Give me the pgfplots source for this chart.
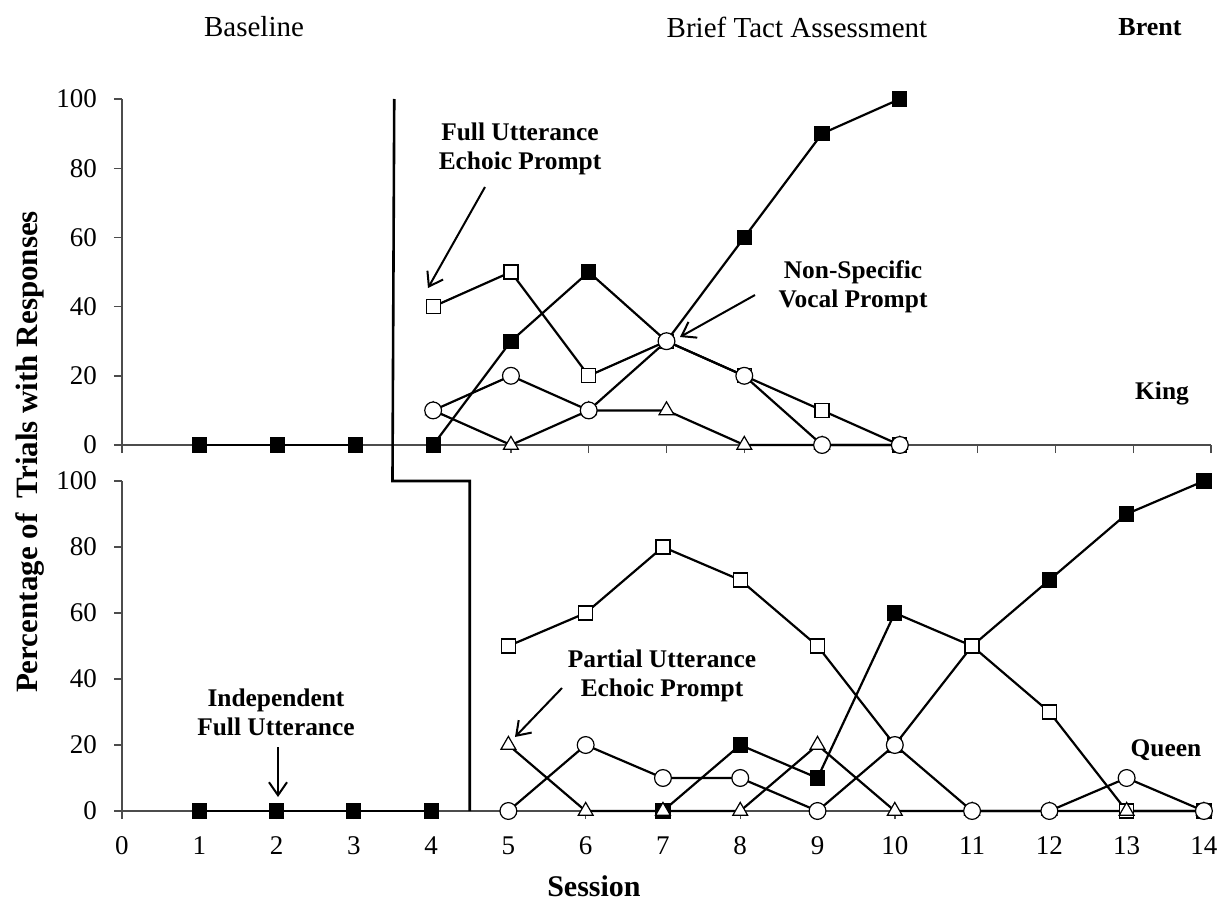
\documentclass[border=0pt]{standalone}
\usepackage{pgfplots}
\pgfplotsset{compat=1.18}
\usepackage{fontspec}
\setmainfont{Liberation Serif}
\usetikzlibrary{arrows.meta}

\pgfplotsset{
  panel/.style={
    scale only axis, anchor=south west, clip=false,
    ymin=0, ymax=100, ytick={0,20,...,100},
    xtick={0,...,14},
    axis x line*=bottom, axis y line*=left,
    tick align=outside, major tick length=4pt,
    axis line style={black!70, line width=0.7pt},
    tick style={black!70, line width=0.7pt},
    /pgf/number format/assume math mode=true,
    tick label style={font=\fontsize{13.5}{15}\selectfont},
    yticklabel style={xshift=-5pt},
    xticklabel style={yshift=-5pt, text height=9.3pt, text depth=0pt},
  },
  fillsq/.style={black, line width=1.1pt, mark=square*, mark size=3.5pt, mark options={solid, fill=black, line width=0.6pt}},
  opensq/.style={black, line width=1.1pt, mark=square*, mark size=3.5pt, mark options={solid, fill=white, line width=0.6pt}},
  opentri/.style={black, line width=1.1pt, mark=triangle*, mark size=4.3pt, mark options={solid, fill=white, line width=0.6pt}},
  opencirc/.style={black, line width=1.1pt, mark=*, mark size=4.2pt, mark options={solid, fill=white, line width=0.6pt}},
}

\begin{document}
\begin{tikzpicture}
\path[use as bounding box] (0,0) rectangle (611.5pt,451pt);

% ---------------- King (top) ----------------
\begin{axis}[panel, at={(61pt,228.5pt)}, width=544.5pt, height=173pt,
  xmin=0, xmax=14, xticklabels={}]
\addplot[fillsq] coordinates {(1,0) (2,0) (3,0)};
\addplot[fillsq] coordinates {(4,0) (5,30) (6,50) (7,30) (8,60) (9,90) (10,100)};
\addplot[opensq] coordinates {(4,40) (5,50) (6,20) (7,30) (8,20) (9,10) (10,0)};
\addplot[opentri] coordinates {(4,10) (5,0) (6,10) (7,10) (8,0) (9,0) (10,0)};
\addplot[opencirc] coordinates {(4,10) (5,20) (6,10) (7,30) (8,20) (9,0) (10,0)};
\coordinate (pa) at (axis cs:3.5,100);
\end{axis}

% ---------------- Queen (bottom) ----------------
\begin{axis}[panel, at={(61pt,45.5pt)}, width=545.6pt, height=165pt,
  xmin=0, xmax=14.12]
\addplot[fillsq] coordinates {(1,0) (2,0) (3,0) (4,0)};
\addplot[fillsq] coordinates {(7,0) (8,20) (9,10) (10,60) (11,50) (12,70) (13,90) (14,100)};
\addplot[opensq] coordinates {(5,50) (6,60) (7,80) (8,70) (9,50) (10,20) (11,50) (12,30) (13,0) (14,0)};
\addplot[opentri] coordinates {(5,20) (6,0) (7,0) (8,0) (9,20) (10,0) (11,0) (12,0) (13,0) (14,0)};
\addplot[opencirc] coordinates {(5,0) (6,20) (7,10) (8,10) (9,0) (10,20) (11,0) (12,0) (13,10) (14,0)};
\coordinate (pc) at (axis cs:3.5,100);
\coordinate (pd) at (axis cs:4.5,100);
\coordinate (pe) at (axis cs:4.5,0);
\end{axis}

% phase change line
\draw[line width=1.3pt] (pa) -- (pc) -- (pd) -- (pe);

% ---------------- texts (pixel-based scope) ----------------
\begin{scope}[x=0.5pt, y=-0.5pt, shift={(0pt,451pt)}]
\node[font=\fontsize{14.5}{17}\selectfont] at (254,27) {Baseline};
\node[font=\fontsize{14.5}{17}\selectfont] at (797,27) {Brief Tact Assessment};
\node[font=\bfseries\fontsize{13}{15}\selectfont] at (1150,27) {Brent};
\node[font=\bfseries\fontsize{12.7}{15}\selectfont] at (1162,393) {King};
\node[font=\bfseries\fontsize{12.7}{15}\selectfont] at (1166,750) {Queen};

\node[align=center, font=\bfseries\fontsize{12.7}{14.5}\selectfont] at (520,149) {Full Utterance\\Echoic Prompt};
\node[align=center, font=\bfseries\fontsize{12.7}{14.5}\selectfont] at (853,287) {Non-Specific\\Vocal Prompt};
\node[align=center, font=\bfseries\fontsize{12.7}{14.5}\selectfont] at (276,712) {Independent\\Full Utterance};
\node[align=center, font=\bfseries\fontsize{12.7}{14.5}\selectfont] at (662,676) {Partial Utterance\\Echoic Prompt};

\tikzset{annarrow/.style={line width=1pt, -{Straight Barb[length=6.5pt,width=9pt,line width=1pt]}}}
\draw[annarrow] (485,187) -- (428,288);
\draw[annarrow] (755,295) -- (680,337);
\draw[annarrow] (278,747) -- (278,797);
\draw[annarrow] (562,688) -- (515,737);

\node[rotate=90, font=\bfseries\fontsize{15.5}{18}\selectfont] at (30,452) {Percentage of\ \ Trials with Responses};
\node[font=\bfseries\fontsize{15}{18}\selectfont] at (594,886) {Session};
\end{scope}
\end{tikzpicture}
\end{document}
